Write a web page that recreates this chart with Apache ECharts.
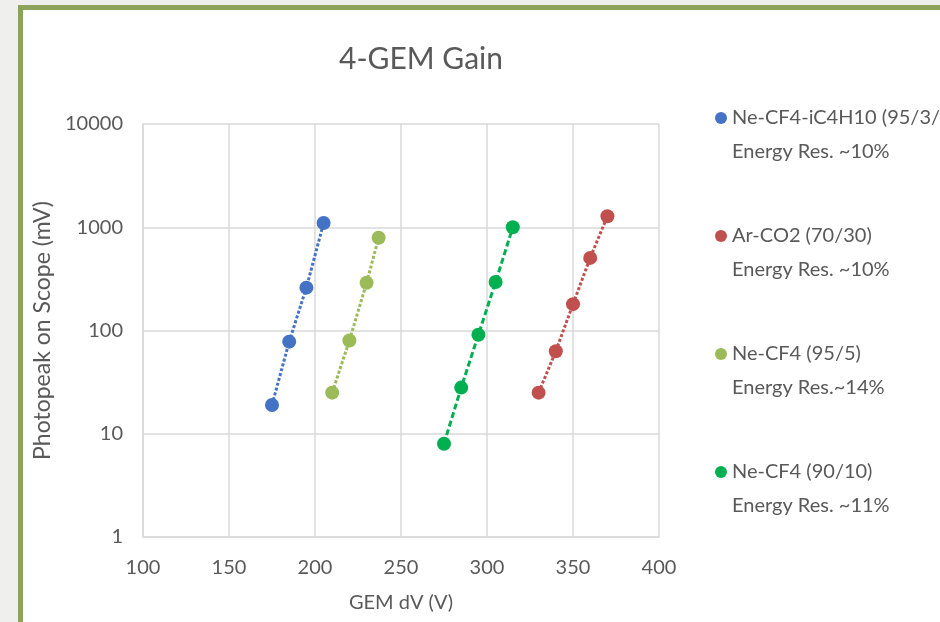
<!DOCTYPE html>
<html>
<head>
<meta charset="utf-8">
<script src="https://cdn.jsdelivr.net/npm/echarts@6/dist/echarts.min.js"></script>
<style>
html,body{margin:0;padding:0;background:#eff0ee;}
#chart{width:940px;height:622px;}
</style>
</head>
<body>
<div id="chart"></div>
<script>
// ---- data ----
const seriesNames = ['Ne-CF4-iC4H10 (95/3/2)', 'Ar-CO2 (70/30)', 'Ne-CF4 (95/5)', 'Ne-CF4 (90/10)'];
const energyRes = ['Energy Res. ~10%', 'Energy Res. ~10%', 'Energy Res.~14%', 'Energy Res. ~11%'];
const colors = ['#4472C4', '#C0504D', '#9BBB59', '#00B050'];

const neCf4Ic4h10_V = [175, 185, 195, 205];
const neCf4Ic4h10_mV = [19, 78, 260, 1100];

const arCo2_V = [330, 340, 350, 360, 370];
const arCo2_mV = [25, 63, 180, 505, 1280];

const neCf4_95_V = [210, 220, 230, 237];
const neCf4_95_mV = [25, 80, 290, 790];

const neCf4_90_V = [275, 285, 295, 305, 315];
const neCf4_90_mV = [8, 28, 91, 295, 1000];

const xTicks = [100, 150, 200, 250, 300, 350, 400];
const yTicks = [1, 10, 100, 1000, 10000];

const titleText = '4-GEM Gain';
const xName = 'GEM dV (V)';
const yName = 'Photopeak on Scope (mV)';

// ---- build ----
function pairs(xs, ys) { return xs.map((x, i) => [x, ys[i]]); }
const seriesData = [
  pairs(neCf4Ic4h10_V, neCf4Ic4h10_mV),
  pairs(arCo2_V, arCo2_mV),
  pairs(neCf4_95_V, neCf4_95_mV),
  pairs(neCf4_90_V, neCf4_90_mV)
];
const lineTypes = [[3, 2], [3, 2], [3, 2], [6, 3]];

const FONT = 'Lato, "Open Sans", sans-serif';
const TXT = '#595959';

const chart = echarts.init(document.getElementById('chart'), null, { renderer: 'canvas' });
chart.setOption({
  backgroundColor: '#eff0ee',
  animation: false,
  textStyle: { fontFamily: FONT, color: TXT },
  graphic: [{
    type: 'rect',
    z: -100,
    silent: true,
    shape: { x: 20.5, y: 7.5, width: 1000, height: 1000 },
    style: { fill: '#ffffff', stroke: '#8da35b', lineWidth: 5 }
  }],
  title: {
    text: titleText,
    left: 416,
    top: 39,
    textAlign: 'center',
    textStyle: { fontFamily: FONT, fontSize: 30, fontWeight: 'normal', color: TXT }
  },
  legend: {
    orient: 'vertical',
    left: 710,
    top: 62,
    itemGap: 16,
    itemWidth: 12,
    itemHeight: 12,
    icon: 'circle',
    data: seriesNames,
    formatter: function (name) {
      const i = seriesNames.indexOf(name);
      return '\n' + name + '\n' + energyRes[i];
    },
    textStyle: { fontFamily: FONT, fontSize: 20, color: TXT, lineHeight: 34 }
  },
  grid: { left: 143, right: 281, top: 124, bottom: 85 },
  xAxis: {
    type: 'value',
    min: xTicks[0],
    max: xTicks[xTicks.length - 1],
    interval: 50,
    name: xName,
    nameLocation: 'middle',
    nameGap: 56,
    nameTextStyle: { fontFamily: FONT, fontSize: 20, color: TXT },
    axisLine: { show: true, lineStyle: { color: '#d9d9d9', width: 1.5 } },
    axisTick: { show: false },
    axisLabel: { margin: 21, fontFamily: FONT, fontSize: 20, color: TXT },
    splitLine: { show: true, lineStyle: { color: '#d9d9d9', width: 1.5 } }
  },
  yAxis: {
    type: 'log',
    logBase: 10,
    min: yTicks[0],
    max: yTicks[yTicks.length - 1],
    name: yName,
    nameLocation: 'middle',
    nameGap: 79,
    nameTextStyle: { fontFamily: FONT, fontSize: 23, color: TXT },
    axisLine: { show: true, lineStyle: { color: '#d9d9d9', width: 1.5 } },
    axisTick: { show: false },
    axisLabel: {
      margin: 20, fontFamily: FONT, fontSize: 20, color: TXT,
      formatter: function (v) { return String(Math.round(v)); }
    },
    splitLine: { show: true, lineStyle: { color: '#d9d9d9', width: 1.5 } }
  },
  series: seriesNames.map((name, i) => ({
    name: name,
    type: 'line',
    data: seriesData[i],
    symbol: 'circle',
    symbolSize: 14,
    showSymbol: true,
    itemStyle: { color: colors[i] },
    lineStyle: { color: colors[i], width: 3, type: lineTypes[i] },
    z: 3
  }))
});
</script>
</body>
</html>
